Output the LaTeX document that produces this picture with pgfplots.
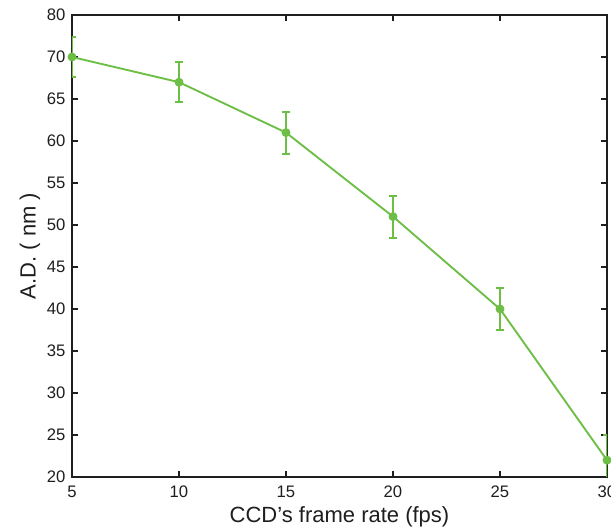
\documentclass[border=0pt]{standalone}
\usepackage{pgfplots}
\pgfplotsset{compat=1.18}
\usepackage{fontspec}
\setmainfont{Liberation Sans}
\definecolor{lg}{RGB}{108,190,69}
\definecolor{axc}{RGB}{30,30,30}
\begin{document}
\begin{tikzpicture}
\begin{axis}[
  at={(0pt,0pt)}, anchor=south west,
  scale only axis, width=401.25pt, height=346.5pt,
  xmin=5, xmax=30, ymin=20, ymax=75,
  xtick={5,10,...,30}, ytick={20,25,...,75},
  yticklabels={20,25,30,35,40,45,50,55,60,65,70,80},
  tick align=inside, major tick length=4.5pt,
  axis line style={axc, line width=1.5pt},
  every tick/.style={axc, line width=1.5pt},
  /pgf/number format/assume math mode=true,
  tick label style={font=\fontsize{12.5}{14}\selectfont, text=axc},
  xticklabel style={yshift=-3pt},
  yticklabel style={xshift=-1.5pt},
  xlabel={CCD’s frame rate (fps)},
  ylabel={A.D. ( nm )},
  label style={font=\fontsize{16.5}{19}\selectfont, text=axc},
  xlabel style={at={(axis description cs:0.5,-0.0866)}, anchor=center},
  ylabel style={at={(axis description cs:-0.0785,0.5)}, anchor=center},
  clip mode=individual,
]
\addplot[lg, line width=1.4pt, mark=*, mark size=2.6pt, mark options={solid, fill=lg},
  error bars/.cd, y dir=both, y explicit,
  error bar style={line width=1.4pt, lg},
  error mark options={lg, line width=1.4pt, mark size=3pt, rotate=90}]
  table[x=x, y=y, y error=e] {
x y e
5 70 2.4
10 67 2.4
15 61 2.5
20 51 2.5
25 40 2.5
30 22 3
};
\end{axis}
\pgfresetboundingbox
\path[use as bounding box] (-54pt,-40.5pt) rectangle (404.25pt,357.75pt);
\end{tikzpicture}
\end{document}
